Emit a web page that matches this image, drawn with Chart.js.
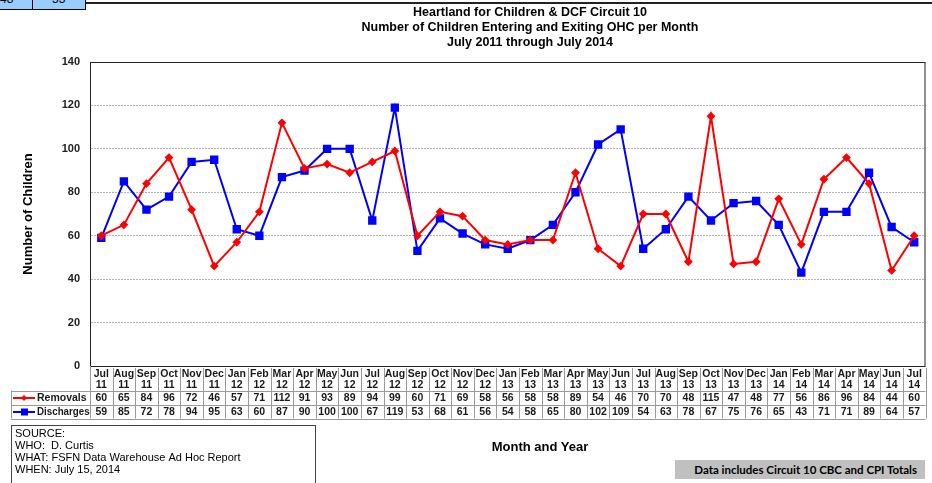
<!DOCTYPE html>
<html>
<head>
<meta charset="utf-8">
<script src="https://cdn.jsdelivr.net/npm/chart.js@4/dist/chart.umd.min.js"></script>
<style>
  body { margin: 0; background: #fff; font-family: 'Liberation Sans', Arial, sans-serif; }
  #wrap { position: relative; width: 932px; height: 483px; overflow: hidden; }
  canvas { position: absolute; left: 0; top: 0; }
  .title { position: absolute; left: 330px; width: 400px; text-align: center; font-weight: bold; font-size: 12.5px; color: #000; line-height: 15px; }
  #topcell { position: absolute; left: 0; top: 0; width: 85px; height: 9px; background: #99ccff; border-right: 1px solid #000; border-bottom: 1px solid #000; overflow: hidden; font-size: 12px; }
  #topcell span { position: absolute; top: -8px; }
  #topline { position: absolute; left: 86px; top: 2px; width: 846px; height: 2px; background: #222; }
  #source { position: absolute; left: 11px; top: 425px; width: 300px; height: 70px; border: 1px solid #444; font-size: 11px; line-height: 12px; padding: 1px 0 0 3px; color: #000; }
  #xtitle { position: absolute; left: 440px; width: 200px; top: 439px; text-align: center; font-weight: bold; font-size: 13px; }
  #note { position: absolute; left: 675px; top: 460px; width: 250px; height: 19px; background: #c0c0c0; font-family: Lato, 'Open Sans', sans-serif; font-weight: bold; font-size: 11.5px; line-height: 19px; text-align: right; box-sizing: border-box; padding-right: 8px; }
</style>
</head>
<body>
<div id="wrap">
  <canvas id="chart" width="932" height="483"></canvas>
  <div id="topcell"><span style="left:0">48</span><div style="position:absolute;left:32px;top:0;width:1px;height:9px;background:#000"></div><span style="left:52px">53</span></div>
  <div id="topline"></div>
  <div class="title" style="top:5px">Heartland for Children &amp; DCF Circuit 10</div>
  <div class="title" style="top:20px">Number of Children Entering and Exiting OHC per Month</div>
  <div class="title" style="top:35px">July 2011 through July 2014</div>
  <div id="source">SOURCE:<br>WHO:&nbsp; D. Curtis<br>WHAT: FSFN Data Warehouse&nbsp;Ad Hoc Report<br>WHEN: July 15, 2014</div>
  <div id="xtitle">Month and Year</div>
  <div id="note">Data includes Circuit 10 CBC and CPI Totals</div>
</div>
<script>
const months = ['Jul','Aug','Sep','Oct','Nov','Dec','Jan','Feb','Mar','Apr','May','Jun',
                'Jul','Aug','Sep','Oct','Nov','Dec','Jan','Feb','Mar','Apr','May','Jun',
                'Jul','Aug','Sep','Oct','Nov','Dec','Jan','Feb','Mar','Apr','May','Jun','Jul'];
const years = ['11','11','11','11','11','11','12','12','12','12','12','12',
               '12','12','12','12','12','12','13','13','13','13','13','13',
               '13','13','13','13','13','13','14','14','14','14','14','14','14'];
const removals = [60,65,84,96,72,46,57,71,112,91,93,89,94,99,60,71,69,58,56,58,58,89,54,46,70,70,48,115,47,48,77,56,86,96,84,44,60];
const discharges = [59,85,72,78,94,95,63,60,87,90,100,100,67,119,53,68,61,56,54,58,65,80,102,109,54,63,78,67,75,76,65,43,71,71,89,64,57];
const yTicks = [0,20,40,60,80,100,120,140];

const FONT = "'Liberation Sans', Arial, sans-serif";

// draws the data table under the plot, columns taken from the x scale
const dataTable = {
  id: 'dataTable',
  afterDraw(chart) {
    const ctx = chart.ctx;
    const x = chart.scales.x;
    const area = chart.chartArea;
    const colW = x.width / months.length;
    const top = area.bottom;
    const r1 = top + 24.5, r2 = r1 + 14, r3 = r2 + 14;
    const legL = 11;
    ctx.save();
    // plot frame
    ctx.strokeStyle = '#222';
    ctx.lineWidth = 1;
    ctx.strokeRect(area.left + 0.5, area.top + 0.5, area.width - 1, area.height);
    // table grid
    ctx.strokeStyle = '#9a9a9a';
    ctx.beginPath();
    for (let i = 1; i <= months.length; i++) {
      const xx = Math.round(x.left + i * colW) + 0.5;
      ctx.moveTo(xx, top + 2); ctx.lineTo(xx, r3);
    }
    ctx.moveTo(area.left + 0.5, top); ctx.lineTo(area.left + 0.5, r3);
    [r1, r2, r3].forEach(y => { ctx.moveTo(legL, Math.round(y) + 0.5); ctx.lineTo(x.right, Math.round(y) + 0.5); });
    ctx.moveTo(legL + 0.5, r1); ctx.lineTo(legL + 0.5, r3);
    ctx.stroke();
    // labels and values
    ctx.fillStyle = '#1a1a1a';
    ctx.font = 'bold 10.5px ' + FONT;
    ctx.textAlign = 'center';
    ctx.textBaseline = 'middle';
    months.forEach((m, i) => {
      const cx = x.getPixelForValue(i);
      ctx.fillText(m, cx, top + 8.5);
      ctx.fillText(years[i], cx, top + 19.5);
      ctx.fillText(String(removals[i]), cx, r1 + 7.5);
      ctx.fillText(String(discharges[i]), cx, r2 + 7.5);
    });
    // legend cells
    ctx.textAlign = 'left';
    ctx.font = 'bold 10.5px ' + FONT;
    ctx.fillText('Removals', 37, r1 + 7.5);
    ctx.save();
    ctx.translate(37, 0); ctx.scale(0.93, 1);
    ctx.fillText('Discharges', 0, r2 + 7.5);
    ctx.restore();
    ctx.lineWidth = 2;
    ctx.strokeStyle = '#ff0000';
    ctx.beginPath(); ctx.moveTo(13, r1 + 7.5); ctx.lineTo(35, r1 + 7.5); ctx.stroke();
    ctx.fillStyle = '#ff0000';
    ctx.beginPath(); ctx.moveTo(24, r1 + 4.5); ctx.lineTo(27, r1 + 7.5); ctx.lineTo(24, r1 + 10.5); ctx.lineTo(21, r1 + 7.5); ctx.fill();
    ctx.strokeStyle = '#0000ff';
    ctx.beginPath(); ctx.moveTo(13, r2 + 7.5); ctx.lineTo(35, r2 + 7.5); ctx.stroke();
    ctx.fillStyle = '#0000ff';
    ctx.fillRect(21, r2 + 4, 7, 7);
    ctx.restore();
  }
};

new Chart(document.getElementById('chart').getContext('2d'), {
  type: 'line',
  data: {
    labels: months.map((m, i) => m + ' ' + years[i]),
    datasets: [{
      label: 'Removals',
      data: removals,
      borderColor: '#ff0000',
      backgroundColor: '#ff0000',
      borderWidth: 2,
      pointStyle: 'rectRot',
      pointRadius: 3,
      tension: 0
    }, {
      label: 'Discharges',
      data: discharges,
      borderColor: '#0000ff',
      backgroundColor: '#0000ff',
      borderWidth: 2,
      pointStyle: 'rect',
      pointRadius: 4.5,
      tension: 0
    }]
  },
  options: {
    responsive: false,
    animation: false,
    layout: { padding: { top: 62, right: 4, left: 0, bottom: 0 } },
    plugins: { legend: { display: false }, tooltip: { enabled: false } },
    scales: {
      x: {
        offset: true,
        grid: { display: false },
        border: { display: false },
        ticks: { display: false },
        afterFit(s) { s.height = 117; }
      },
      y: {
        min: 0, max: 140,
        afterBuildTicks(s) { s.ticks = yTicks.map(v => ({ value: v })); },
        afterFit(s) { s.width = 90; },
        grid: { color: '#b4b4b4', drawTicks: false },
        border: { display: true, color: '#222', dash: [2, 1] },
        ticks: { padding: 10, color: '#222', font: { family: FONT, size: 11, weight: 'bold' } },
        title: { display: true, text: 'Number of Children', color: '#000', padding: { top: 21 }, font: { family: FONT, size: 13, weight: 'bold' } }
      }
    }
  },
  plugins: [dataTable]
});
</script>
</body>
</html>
